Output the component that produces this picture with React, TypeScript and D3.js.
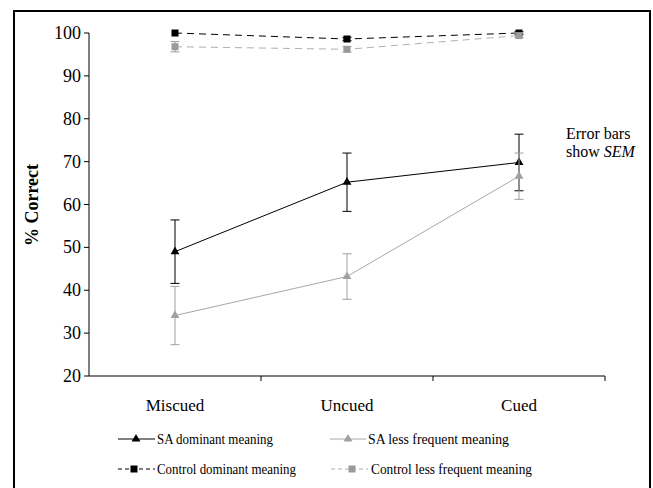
import React from "react";
import * as d3 from "d3";

const categories = ["Miscued", "Uncued", "Cued"];
const yTicks = [20, 30, 40, 50, 60, 70, 80, 90, 100];

const saDominant = [49.0, 65.2, 69.8];
const saDominantSem = [7.4, 6.8, 6.6];
const saLess = [34.1, 43.2, 66.6];
const saLessSem = [6.8, 5.3, 5.4];
const ctrlDominant = [100, 98.6, 100];
const ctrlDominantSem = [0, 0.4, 0.3];
const ctrlLess = [96.8, 96.2, 99.4];
const ctrlLessSem = [1.2, 0.6, 0.5];

const seriesNames = [
  "SA dominant meaning",
  "SA less frequent meaning",
  "Control dominant meaning",
  "Control less frequent meaning",
];

const FONT = "Liberation Serif";

type S = {
  name: string;
  values: number[];
  sem: number[];
  color: string;
  lineColor: string;
  dash?: string;
  marker: "tri" | "sq";
};

const series: S[] = [
  { name: seriesNames[2], values: ctrlDominant, sem: ctrlDominantSem, color: "#000", lineColor: "#000", dash: "7,5", marker: "sq" },
  { name: seriesNames[3], values: ctrlLess, sem: ctrlLessSem, color: "#9a9a9a", lineColor: "#b0b0b0", dash: "7,5", marker: "sq" },
  { name: seriesNames[0], values: saDominant, sem: saDominantSem, color: "#000", lineColor: "#000", marker: "tri" },
  { name: seriesNames[1], values: saLess, sem: saLessSem, color: "#a0a0a0", lineColor: "#a8a8a8", marker: "tri" },
];

function Marker({ x, y, type, color }: { x: number; y: number; type: string; color: string }) {
  if (type === "tri") {
    const sym = d3.symbol().type(d3.symbolTriangle).size(34)();
    return <path d={sym || ""} transform={`translate(${x},${y})`} fill={color} />;
  }
  return <rect x={x - 3.5} y={y - 3.5} width={7} height={7} fill={color} />;
}

export default function App() {
  const W = 653, H = 488;
  const x = d3.scaleBand<string>().domain(categories).range([89, 605]).padding(0);
  const y = d3.scaleLinear().domain([20, 100]).range([376, 33]);
  const cx = (c: string) => (x(c) as number) + x.bandwidth() / 2;
  const line = d3
    .line<number>()
    .x((_, i) => cx(categories[i]))
    .y((v) => y(v));

  const legendItems = [
    { s: series[2], lx1: 118, lx2: 155, mx: 136, tx: 157, ty: 444, w: 116 },
    { s: series[3], lx1: 330, lx2: 366, mx: 348, tx: 368, ty: 444, w: 141 },
    { s: series[0], lx1: 118, lx2: 155, mx: 134, tx: 157, ty: 474, w: 139 },
    { s: series[1], lx1: 331, lx2: 368, mx: 352, tx: 371, ty: 474, w: 161 },
  ];

  const tStyle = { fontFamily: FONT };

  return (
    <svg width={W} height={H} style={{ position: "absolute", left: 0, top: 0, background: "#fff" }}>
      <rect x={0} y={0} width={W} height={H} fill="#fff" />
      <rect x={14} y={11} width={636} height={490} fill="none" stroke="#000" strokeWidth={2} />

      {/* Y axis */}
      <line x1={89} x2={89} y1={y(100)} y2={y(20)} stroke="#000" strokeWidth={1} />
      {yTicks.map((t) => (
        <g key={t}>
          <line x1={84} x2={89} y1={y(t)} y2={y(t)} stroke="#000" />
          <text x={81} y={y(t) + 6} textAnchor="end" fontSize={18} style={tStyle}>
            {t}
          </text>
        </g>
      ))}
      <text
        transform={`translate(38,${205}) rotate(-90)`}
        textAnchor="middle"
        fontSize={18}
        fontWeight="bold"
        style={tStyle}
      >
        % Correct
      </text>

      {/* X axis */}
      <line x1={89} x2={605} y1={y(20)} y2={y(20)} stroke="#000" />
      {categories.map((c) => (
        <g key={c}>
          <line
            x1={(x(c) as number) + x.bandwidth()}
            x2={(x(c) as number) + x.bandwidth()}
            y1={y(20)}
            y2={y(20) + 5}
            stroke="#000"
          />
          <text x={cx(c)} y={411} textAnchor="middle" fontSize={17} style={tStyle}>
            {c}
          </text>
        </g>
      ))}

      {/* Series */}
      {series.map((s) => (
        <g key={s.name}>
          <path d={line(s.values) || ""} fill="none" stroke={s.lineColor} strokeWidth={1} strokeDasharray={s.dash} />
          {s.values.map((v, i) => {
            const px = cx(categories[i]);
            const e = s.sem[i];
            if (e <= 0) return null;
            return (
              <g key={i} stroke={s.color} strokeWidth={1}>
                <line x1={px} x2={px} y1={y(v + e)} y2={y(v - e)} />
                <line x1={px - 4.5} x2={px + 4.5} y1={y(v + e)} y2={y(v + e)} />
                <line x1={px - 4.5} x2={px + 4.5} y1={y(v - e)} y2={y(v - e)} />
              </g>
            );
          })}
          {s.values.map((v, i) => (
            <Marker key={"m" + i} x={cx(categories[i])} y={y(v)} type={s.marker} color={s.color} />
          ))}
        </g>
      ))}

      {/* Note */}
      <text x={566} y={139} fontSize={16} style={tStyle}>Error bars</text>
      <text x={566} y={157} fontSize={16} style={tStyle}>
        show <tspan fontStyle="italic">SEM</tspan>
      </text>

      {/* Legend */}
      {legendItems.map((it) => (
        <g key={it.s.name}>
          <line
            x1={it.lx1}
            x2={it.lx2}
            y1={it.ty - 5}
            y2={it.ty - 5}
            stroke={it.s.lineColor}
            strokeDasharray={it.s.dash ? "4,3" : undefined}
          />
          <Marker x={it.mx} y={it.ty - 5} type={it.s.marker} color={it.s.color} />
          <text x={it.tx} y={it.ty} fontSize={15} textLength={it.w} lengthAdjust="spacingAndGlyphs" style={tStyle}>
            {it.s.name}
          </text>
        </g>
      ))}
    </svg>
  );
}
